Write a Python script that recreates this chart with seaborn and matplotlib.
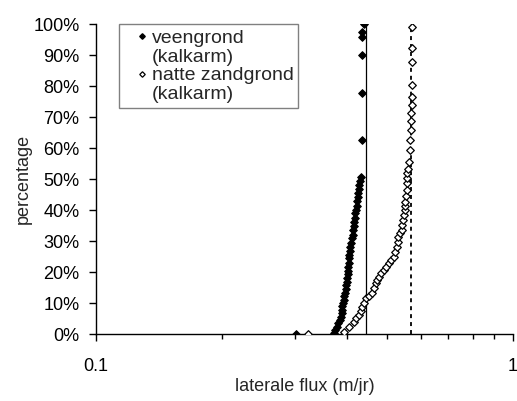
import pandas as pd
import matplotlib
matplotlib.use("Agg")
import matplotlib.pyplot as plt
import matplotlib.ticker as mtick
from matplotlib.lines import Line2D
import seaborn as sns

# veengrond (kalkarm): laterale flux (m/jr) and cumulative percentage
veen_flux = [0.302, 0.372, 0.375, 0.378, 0.381, 0.384, 0.386, 0.388, 0.389, 0.390,
             0.392, 0.393, 0.394, 0.396, 0.397, 0.398, 0.400, 0.400, 0.401, 0.402,
             0.403, 0.404, 0.405, 0.405, 0.406, 0.407, 0.409, 0.411, 0.413, 0.414,
             0.415, 0.416, 0.418, 0.419, 0.420, 0.422, 0.423, 0.425, 0.426, 0.427,
             0.428, 0.429, 0.431, 0.434, 0.434, 0.434, 0.435, 0.435, 0.439]
veen_pct = [0.0, 0.5, 1.5, 2.5, 3.5, 4.5, 5.5, 6.8, 7.8, 9.0,
            10.0, 11.0, 12.2, 13.4, 14.5, 15.8, 17.0, 18.0, 19.3, 20.5,
            21.8, 23.0, 24.5, 25.5, 27.0, 28.3, 29.5, 31.0, 32.0, 33.5,
            35.0, 36.2, 37.5, 39.0, 40.2, 41.5, 43.0, 44.3, 45.5, 46.8,
            48.0, 49.3, 50.8, 62.6, 77.7, 90.0, 95.8, 97.4, 100.0]

# natte zandgrond (kalkarm)
zand_flux = [0.323, 0.393, 0.405, 0.415, 0.421, 0.427, 0.431, 0.435, 0.439, 0.443,
             0.451, 0.459, 0.463, 0.468, 0.472, 0.476, 0.483, 0.490, 0.497, 0.503,
             0.510, 0.517, 0.522, 0.527, 0.529, 0.531, 0.536, 0.541, 0.543, 0.546,
             0.549, 0.551, 0.551, 0.551, 0.553, 0.556, 0.556, 0.556, 0.556, 0.560,
             0.563, 0.565, 0.566, 0.568, 0.569, 0.570, 0.571, 0.572, 0.572, 0.573,
             0.573, 0.574]
zand_pct = [0.0, 0.8, 2.5, 4.1, 5.2, 6.2, 7.5, 8.9, 10.2, 11.6,
            12.5, 13.2, 14.8, 16.5, 17.5, 18.6, 19.7, 20.7, 21.8, 22.9,
            24.0, 25.0, 26.6, 28.3, 29.9, 31.5, 32.6, 33.6, 35.3, 36.9,
            38.5, 40.1, 41.5, 42.8, 44.6, 46.5, 48.7, 50.3, 51.9, 53.3,
            55.7, 59.5, 62.7, 65.9, 68.6, 71.3, 74.0, 76.6, 80.4, 87.9,
            92.3, 99.2]

# reference lines
veen_ref = 0.444
zand_ref = 0.570

sns.set_theme(style="ticks")
plt.rcParams['font.family'] = ['Liberation Sans', 'DejaVu Sans']

veen = pd.DataFrame({'flux': veen_flux, 'pct': veen_pct})
zand = pd.DataFrame({'flux': zand_flux, 'pct': zand_pct})

fig = plt.figure(figsize=(5.17, 4.01), dpi=100)
ax = fig.add_axes([0.1857, 0.1663, 0.8066, 0.7737])

ax.axvline(veen_ref, color='black', lw=0.9, zorder=1)
ax.axvline(zand_ref, color='black', lw=1.3, dashes=(2.2, 2.2), zorder=1)

sns.scatterplot(data=veen, x='flux', y='pct', ax=ax, marker='D', s=15,
                color='black', edgecolor='black', linewidth=0.8, zorder=3)
sns.scatterplot(data=zand, x='flux', y='pct', ax=ax, marker='D', s=15,
                facecolor='white', edgecolor='black', linewidth=0.9, zorder=3)

ax.set_xscale('log')
ax.set_xlim(0.1, 1)
ax.set_ylim(0, 100)
ax.xaxis.set_major_locator(mtick.FixedLocator([0.1, 1]))
ax.xaxis.set_major_formatter(mtick.FixedFormatter(['0.1', '1']))
ax.xaxis.set_minor_locator(mtick.FixedLocator([0.2, 0.3, 0.4, 0.5, 0.6, 0.7, 0.8, 0.9]))
ax.xaxis.set_minor_formatter(mtick.NullFormatter())
ax.yaxis.set_major_locator(mtick.MultipleLocator(10))
ax.yaxis.set_major_formatter(mtick.PercentFormatter(100, decimals=0))

ax.tick_params(axis='x', which='major', length=4.7, width=1, pad=12, labelsize=13, colors='black')
ax.tick_params(axis='x', which='minor', length=3.5, width=1, colors='black')
ax.tick_params(axis='y', length=4.7, width=1, pad=7.2, labelsize=13, colors='black')

sns.despine(ax=ax)
for side in ['left', 'bottom']:
    ax.spines[side].set_color('black')
    ax.spines[side].set_linewidth(1)

ax.set_xlabel('laterale flux (m/jr)', fontsize=13, labelpad=2.5)
ax.set_ylabel('percentage', fontsize=13, labelpad=1)

handles = [
    Line2D([], [], ls='none', marker='D', ms=2.8, color='black'),
    Line2D([], [], ls='none'),
    Line2D([], [], ls='none', marker='D', ms=2.8, mfc='white', mec='black', mew=0.9),
    Line2D([], [], ls='none'),
]
labels = ['veengrond', '(kalkarm)', 'natte zandgrond', '(kalkarm)']
leg = ax.legend(handles, labels, loc='upper left', bbox_to_anchor=(0.055, 1.0),
                borderaxespad=0, frameon=True, fancybox=False, framealpha=1,
                edgecolor='#808080', fontsize=14, handlelength=1.83,
                handletextpad=-0.4, borderpad=0.25, labelspacing=0.07)
leg.get_frame().set_linewidth(1)

fig.savefig('out.png', dpi=100)
